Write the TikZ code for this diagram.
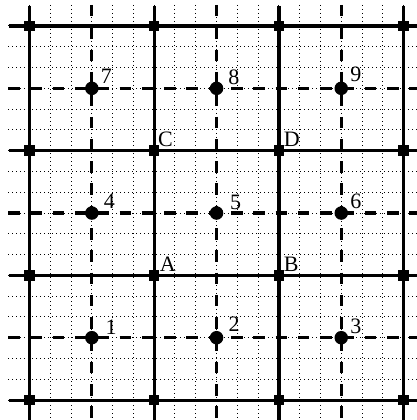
\documentclass[tikz,border=0pt]{standalone}
\usepackage{fontspec}
\setmainfont{Liberation Serif}
\usetikzlibrary{calc}
\begin{document}
\begin{tikzpicture}[x=1pt,y=-1pt,
  solidline/.style={line width=3.2pt},
  dashline/.style={line width=3.2pt, dash pattern=on 11.5pt off 10.8pt},
  dotline/.style={line width=1pt, dash pattern=on 1.3pt off 2.7pt},
  sq/.style={rectangle, fill=black, minimum size=10.5pt, inner sep=0pt, draw=none},
  dotnode/.style={circle, fill=black, minimum size=13.5pt, inner sep=0pt},
  lab/.style={anchor=base west, inner sep=0pt, font=\fontsize{22}{22}\selectfont}]
\useasboundingbox (0,0) rectangle (417,420);
\clip (0,0) rectangle (417,420);
% fine dotted grid
\foreach \k in {0,...,19} {
  \draw[dotline] (8,{26+\k*20.783}) -- (430,{26+\k*20.783});
  \draw[dotline] ({29.5+\k*20.783},5) -- ({29.5+\k*20.783},430);
}
% dashed mid lines
\foreach \v in {91.85,216.55,341.25} {
  \draw[dashline] (\v,5) -- (\v,430);
}
\foreach \v in {88.35,213.05,337.7} {
  \draw[dashline] (8,\v) -- (430,\v);
}
% solid lines
\foreach \v in {29.5,154.2,278.9,403.6} {
  \draw[solidline] (\v,6) -- (\v,430);
}
\foreach \v in {26,150.7,275.4,400.1} {
  \draw[solidline] (8.7,\v) -- (430,\v);
}
% squares at solid intersections
\foreach \xx/\i in {29.5/1,154.2/2,278.9/3,403.6/4} {
  \foreach \yy/\j in {26/1,150.7/2,275.4/3,400.1/4} {
    \node[sq] (s\i\j) at (\xx,\yy) {};
  }
}
\node[sq] (A) at (154.2,275.4) {};
\node[sq] (B) at (278.9,275.4) {};
\node[sq] (C) at (154.2,150.7) {};
\node[sq] (D) at (278.9,150.7) {};
% dots
\node[dotnode] (d1) at (91.85,337.7) {};
\node[dotnode] (d2) at (216.55,337.7) {};
\node[dotnode] (d3) at (341.25,337.7) {};
\node[dotnode] (d4) at (91.85,213.05) {};
\node[dotnode] (d5) at (216.55,213.05) {};
\node[dotnode] (d6) at (341.25,213.05) {};
\node[dotnode] (d7) at (91.85,88.35) {};
\node[dotnode] (d8) at (216.55,88.35) {};
\node[dotnode] (d9) at (341.25,88.35) {};
% labels
\node[lab] (l1) at ($(d1)+(13.6,-3.7)$) {1};
\node[lab] (l2) at ($(d2)+(11.8,-6)$) {2};
\node[lab] (l3) at ($(d3)+(8.8,-4.4)$) {3};
\node[lab] (l4) at ($(d4)+(11.8,-4.7)$) {4};
\node[lab] (l5) at ($(d5)+(13.4,-4)$) {5};
\node[lab] (l6) at ($(d6)+(8.8,-5)$) {6};
\node[lab] (l7) at ($(d7)+(8.9,-5.3)$) {7};
\node[lab] (l8) at ($(d8)+(11.5,-3.4)$) {8};
\node[lab] (l9) at ($(d9)+(8.8,-6.6)$) {9};
\node[lab] (lA) at ($(A)+(5.5,-3.8)$) {A};
\node[lab] (lB) at ($(B)+(4.8,-3.8)$) {B};
\node[lab] (lC) at ($(C)+(3.6,-4)$) {C};
\node[lab] (lD) at ($(D)+(4.8,-4)$) {D};
\end{tikzpicture}
\end{document}
